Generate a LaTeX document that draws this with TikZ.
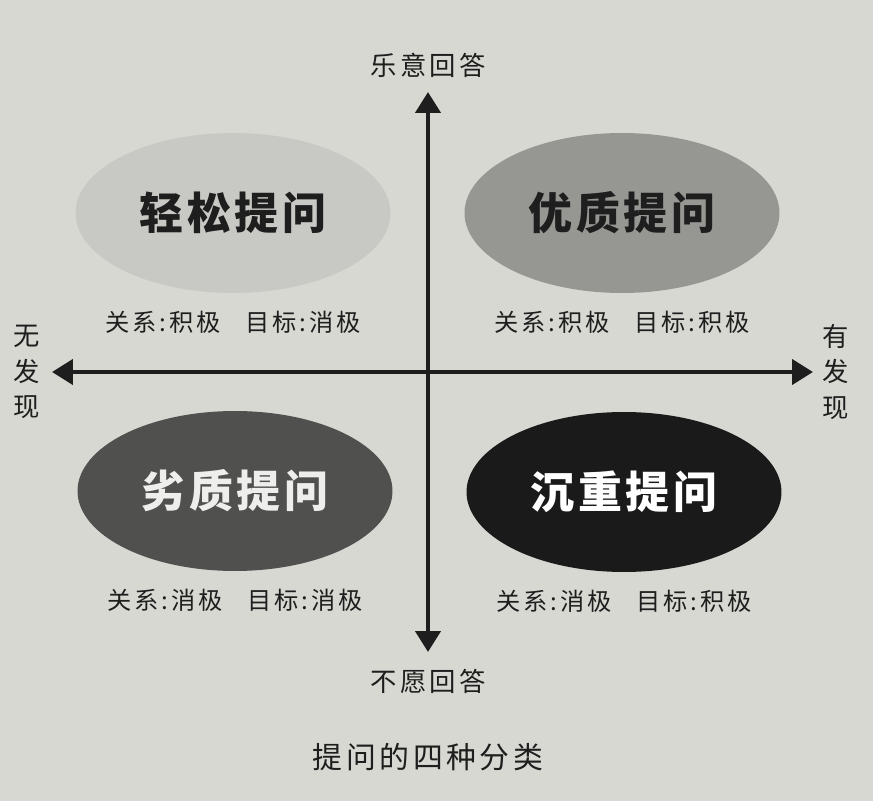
\documentclass[tikz,border=0pt]{standalone}
\usepackage{fontspec}
\newfontfamily\cjk[LetterSpace=12]{Noto Sans CJK SC}
\newfontfamily\cjkbig[LetterSpace=8]{Noto Sans CJK SC}
\usetikzlibrary{arrows.meta,positioning,shapes.geometric}
\definecolor{PaperGray}{RGB}{216,216,211}
\definecolor{PaleQuad}{RGB}{200,200,196}
\definecolor{MidQuad}{RGB}{150,150,147}
\definecolor{DarkQuad}{RGB}{80,80,79}
\definecolor{BlackQuad}{RGB}{26,26,26}
\definecolor{InkGray}{RGB}{30,30,30}
\definecolor{SnowGray}{RGB}{238,238,236}

\begin{document}
\begin{tikzpicture}[x=0.02cm,y=-0.02cm,
    >={Triangle[length=0.42cm,width=0.5cm]},
    quad/.style={ellipse,draw=none,minimum width=6.3cm,minimum height=3.2cm,
      font=\cjkbig\fontsize{25}{25}\selectfont\bfseries},
    note/.style={inner sep=0pt,text=InkGray,font=\cjk\fontsize{13.8}{14}\selectfont},
    axislabel/.style={inner sep=0pt,text=InkGray,align=center,
      font=\cjk\fontsize{15}{20}\selectfont}]
  \fill[PaperGray] (0,0) rectangle (873,801);
  \useasboundingbox (0,0) rectangle (873,801);

  % axes
  \coordinate (top) at (428,92);
  \coordinate (bottom) at (428,652);
  \coordinate (left) at (52,372);
  \coordinate (right) at (813,372);
  \draw[<->,line width=2.5pt,InkGray] (top) -- (bottom);
  \draw[<->,line width=2.5pt,InkGray] (left) -- (right);
  \node[axislabel,above=0.28cm of top] (willing) {乐意回答};
  \node[axislabel,below=0.34cm of bottom] (unwilling) {不愿回答};
  \node[axislabel,left=0.24cm of left] (nofind) {无\\发\\现};
  \node[axislabel,right=0.18cm of right] (find) {有\\发\\现};

  % four kinds of questions
  \foreach \nm/\x/\y/\cc/\tc/\txt/\rel/\goal in {
      easy/233/213/PaleQuad/InkGray/轻松提问/积极/消极,
      good/622/213/MidQuad/InkGray/优质提问/积极/积极,
      poor/235/491/DarkQuad/SnowGray/劣质提问/消极/消极,
      heavy/624/492/BlackQuad/white/沉重提问/消极/积极}{
    \node[quad,fill=\cc,text=\tc] (\nm) at (\x,\y) {\txt};
    \node[note,below=0.34cm of \nm] (\nm-note) {关系:\rel\quad 目标:\goal};
  }

  \node[note,font=\cjk\fontsize{17}{17}\selectfont] (caption) at (428,757) {提问的四种分类};
\end{tikzpicture}
\end{document}
